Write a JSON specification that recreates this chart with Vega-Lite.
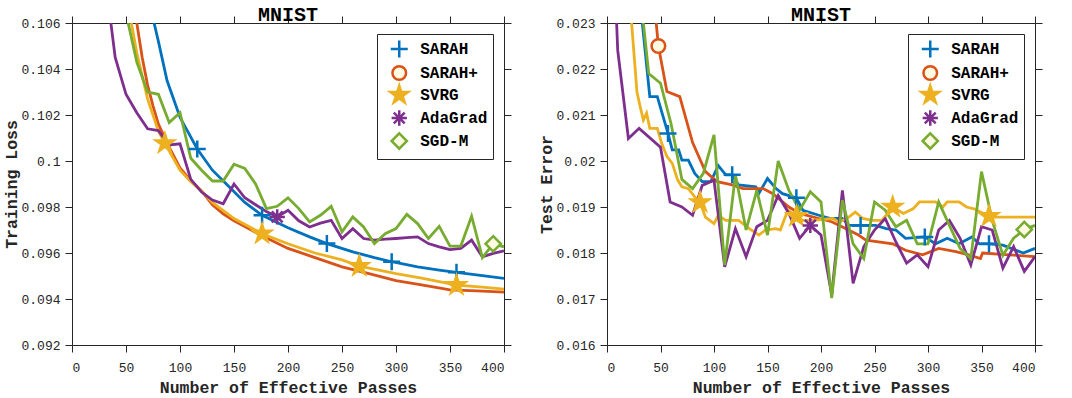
{
"$schema": "https://vega.github.io/schema/vega-lite/v6.json",
"autosize": {"type": "pad"},
"padding": {"left": 3, "top": 4, "right": 0, "bottom": 0},
"background": "white",
"config": {
  "view": {"stroke": null},
  "axis": {"domainColor": "#262626", "tickColor": "#262626", "tickSize": 7, "domainWidth": 1, "tickWidth": 1, "grid": false,
    "labelFont": "Liberation Mono", "labelFontSize": 13, "labelColor": "#262626",
    "titleFont": "Liberation Mono", "titleFontSize": 16.5, "titleFontWeight": "bold", "titleColor": "#262626"},
  "axisX": {"labelPadding": 9, "titlePadding": 5},
  "axisY": {"labelPadding": 5, "titlePadding": 1},
  "title": {"font": "Liberation Mono", "fontSize": 20, "fontWeight": "bold", "color": "black", "offset": -9},
  "legend": {"orient": "top-right", "offset": 11, "strokeColor": "#262626", "fillColor": "white", "padding": 5,
    "labelFont": "Liberation Mono", "labelFontSize": 16, "labelFontWeight": "bold", "labelColor": "black",
    "symbolSize": 289, "symbolOffset": 7.25, "labelOffset": 11, "rowPadding": -6, "symbolStrokeWidth": 2.5, "symbolOpacity": 1}
},
"datasets": {
  "loss_lines": [
    {"method":"SARAH","passes":76,"value":0.1060},{"method":"SARAH","passes":80,"value":0.1052},{"method":"SARAH","passes":88,"value":0.1035},{"method":"SARAH","passes":100,"value":0.1019},{"method":"SARAH","passes":116,"value":0.10052},{"method":"SARAH","passes":130,"value":0.0996},{"method":"SARAH","passes":145,"value":0.0989},{"method":"SARAH","passes":160,"value":0.0982},{"method":"SARAH","passes":176,"value":0.09764},{"method":"SARAH","passes":200,"value":0.0971},{"method":"SARAH","passes":220,"value":0.0967},{"method":"SARAH","passes":236,"value":0.09641},{"method":"SARAH","passes":260,"value":0.09605},{"method":"SARAH","passes":280,"value":0.0958},{"method":"SARAH","passes":296,"value":0.09562},{"method":"SARAH","passes":320,"value":0.0954},{"method":"SARAH","passes":340,"value":0.09526},{"method":"SARAH","passes":356,"value":0.09516},{"method":"SARAH","passes":380,"value":0.09502},{"method":"SARAH","passes":400,"value":0.0949},
    {"method":"SARAH+","passes":60,"value":0.1060},{"method":"SARAH+","passes":65,"value":0.1045},{"method":"SARAH+","passes":70,"value":0.1033},{"method":"SARAH+","passes":75,"value":0.1024},{"method":"SARAH+","passes":80,"value":0.1016},{"method":"SARAH+","passes":90,"value":0.1006},{"method":"SARAH+","passes":100,"value":0.0997},{"method":"SARAH+","passes":110,"value":0.09915},{"method":"SARAH+","passes":120,"value":0.0987},{"method":"SARAH+","passes":130,"value":0.0981},{"method":"SARAH+","passes":140,"value":0.0977},{"method":"SARAH+","passes":150,"value":0.0974},{"method":"SARAH+","passes":160,"value":0.09715},{"method":"SARAH+","passes":175,"value":0.09677},{"method":"SARAH+","passes":200,"value":0.0962},{"method":"SARAH+","passes":225,"value":0.0958},{"method":"SARAH+","passes":250,"value":0.0954},{"method":"SARAH+","passes":275,"value":0.0951},{"method":"SARAH+","passes":300,"value":0.0948},{"method":"SARAH+","passes":325,"value":0.0946},{"method":"SARAH+","passes":350,"value":0.0944},{"method":"SARAH+","passes":375,"value":0.09435},{"method":"SARAH+","passes":400,"value":0.0943},
    {"method":"SVRG","passes":55,"value":0.1060},{"method":"SVRG","passes":60,"value":0.1047},{"method":"SVRG","passes":70,"value":0.1027},{"method":"SVRG","passes":80,"value":0.1013},{"method":"SVRG","passes":86,"value":0.10077},{"method":"SVRG","passes":100,"value":0.0996},{"method":"SVRG","passes":110,"value":0.0991},{"method":"SVRG","passes":120,"value":0.0987},{"method":"SVRG","passes":130,"value":0.0982},{"method":"SVRG","passes":150,"value":0.0975},{"method":"SVRG","passes":176,"value":0.09684},{"method":"SVRG","passes":200,"value":0.0964},{"method":"SVRG","passes":225,"value":0.0960},{"method":"SVRG","passes":250,"value":0.0957},{"method":"SVRG","passes":266,"value":0.09543},{"method":"SVRG","passes":300,"value":0.0951},{"method":"SVRG","passes":325,"value":0.0949},{"method":"SVRG","passes":356,"value":0.0946},{"method":"SVRG","passes":380,"value":0.09452},{"method":"SVRG","passes":400,"value":0.09443},
    {"method":"AdaGrad","passes":36,"value":0.1060},{"method":"AdaGrad","passes":40,"value":0.1045},{"method":"AdaGrad","passes":50,"value":0.1029},{"method":"AdaGrad","passes":60,"value":0.1021},{"method":"AdaGrad","passes":70,"value":0.1014},{"method":"AdaGrad","passes":80,"value":0.10132},{"method":"AdaGrad","passes":90,"value":0.1007},{"method":"AdaGrad","passes":100,"value":0.10075},{"method":"AdaGrad","passes":110,"value":0.0992},{"method":"AdaGrad","passes":120,"value":0.09865},{"method":"AdaGrad","passes":130,"value":0.0983},{"method":"AdaGrad","passes":140,"value":0.09814},{"method":"AdaGrad","passes":150,"value":0.0990},{"method":"AdaGrad","passes":160,"value":0.0984},{"method":"AdaGrad","passes":170,"value":0.0981},{"method":"AdaGrad","passes":180,"value":0.0978},{"method":"AdaGrad","passes":190,"value":0.09757},{"method":"AdaGrad","passes":200,"value":0.09786},{"method":"AdaGrad","passes":210,"value":0.0974},{"method":"AdaGrad","passes":220,"value":0.09713},{"method":"AdaGrad","passes":230,"value":0.0973},{"method":"AdaGrad","passes":240,"value":0.09742},{"method":"AdaGrad","passes":250,"value":0.09663},{"method":"AdaGrad","passes":260,"value":0.09706},{"method":"AdaGrad","passes":270,"value":0.09663},{"method":"AdaGrad","passes":280,"value":0.09656},{"method":"AdaGrad","passes":290,"value":0.0966},{"method":"AdaGrad","passes":300,"value":0.09663},{"method":"AdaGrad","passes":310,"value":0.09667},{"method":"AdaGrad","passes":320,"value":0.0967},{"method":"AdaGrad","passes":330,"value":0.09641},{"method":"AdaGrad","passes":340,"value":0.09627},{"method":"AdaGrad","passes":350,"value":0.09615},{"method":"AdaGrad","passes":360,"value":0.0962},{"method":"AdaGrad","passes":370,"value":0.09656},{"method":"AdaGrad","passes":380,"value":0.09583},{"method":"AdaGrad","passes":390,"value":0.09598},{"method":"AdaGrad","passes":400,"value":0.09609},
    {"method":"SGD-M","passes":52,"value":0.1060},{"method":"SGD-M","passes":60,"value":0.1043},{"method":"SGD-M","passes":70,"value":0.1030},{"method":"SGD-M","passes":80,"value":0.1029},{"method":"SGD-M","passes":90,"value":0.10167},{"method":"SGD-M","passes":100,"value":0.1021},{"method":"SGD-M","passes":110,"value":0.10012},{"method":"SGD-M","passes":120,"value":0.0996},{"method":"SGD-M","passes":130,"value":0.09913},{"method":"SGD-M","passes":140,"value":0.09913},{"method":"SGD-M","passes":150,"value":0.09986},{"method":"SGD-M","passes":160,"value":0.09968},{"method":"SGD-M","passes":170,"value":0.0990},{"method":"SGD-M","passes":180,"value":0.09793},{"method":"SGD-M","passes":190,"value":0.09803},{"method":"SGD-M","passes":200,"value":0.0984},{"method":"SGD-M","passes":210,"value":0.09793},{"method":"SGD-M","passes":220,"value":0.09735},{"method":"SGD-M","passes":230,"value":0.09764},{"method":"SGD-M","passes":240,"value":0.09803},{"method":"SGD-M","passes":250,"value":0.09692},{"method":"SGD-M","passes":260,"value":0.09757},{"method":"SGD-M","passes":270,"value":0.09713},{"method":"SGD-M","passes":280,"value":0.09641},{"method":"SGD-M","passes":290,"value":0.09684},{"method":"SGD-M","passes":300,"value":0.09706},{"method":"SGD-M","passes":310,"value":0.09768},{"method":"SGD-M","passes":320,"value":0.09728},{"method":"SGD-M","passes":330,"value":0.09663},{"method":"SGD-M","passes":340,"value":0.09716},{"method":"SGD-M","passes":350,"value":0.0963},{"method":"SGD-M","passes":360,"value":0.0963},{"method":"SGD-M","passes":370,"value":0.0976},{"method":"SGD-M","passes":380,"value":0.0958},{"method":"SGD-M","passes":390,"value":0.0964},{"method":"SGD-M","passes":400,"value":0.09627}
  ],
  "loss_markers": [
    {"method":"SARAH","passes":116,"value":0.10052},{"method":"SARAH","passes":176,"value":0.09764},{"method":"SARAH","passes":236,"value":0.09641},{"method":"SARAH","passes":296,"value":0.09562},{"method":"SARAH","passes":356,"value":0.09516},
    {"method":"SVRG","passes":86,"value":0.10077},{"method":"SVRG","passes":176,"value":0.09684},{"method":"SVRG","passes":266,"value":0.09543},{"method":"SVRG","passes":356,"value":0.0946},
    {"method":"AdaGrad","passes":190,"value":0.09757},
    {"method":"SGD-M","passes":390,"value":0.0964}
  ],
  "err_lines": [
    {"method":"SARAH","passes":33,"value":0.0230},{"method":"SARAH","passes":40,"value":0.0214},{"method":"SARAH","passes":47,"value":0.0214},{"method":"SARAH","passes":57,"value":0.0206},{"method":"SARAH","passes":61,"value":0.02024},{"method":"SARAH","passes":67,"value":0.02024},{"method":"SARAH","passes":70,"value":0.02002},{"method":"SARAH","passes":76,"value":0.02002},{"method":"SARAH","passes":82,"value":0.01973},{"method":"SARAH","passes":89,"value":0.01955},{"method":"SARAH","passes":97,"value":0.01955},{"method":"SARAH","passes":104,"value":0.0199},{"method":"SARAH","passes":111,"value":0.0197},{"method":"SARAH","passes":117,"value":0.0197},{"method":"SARAH","passes":123,"value":0.01948},{"method":"SARAH","passes":139,"value":0.01944},{"method":"SARAH","passes":142,"value":0.0193},{"method":"SARAH","passes":150,"value":0.01962},{"method":"SARAH","passes":158,"value":0.0194},{"method":"SARAH","passes":164,"value":0.01929},{"method":"SARAH","passes":177,"value":0.0192},{"method":"SARAH","passes":183,"value":0.01893},{"method":"SARAH","passes":198,"value":0.01882},{"method":"SARAH","passes":209,"value":0.01875},{"method":"SARAH","passes":220,"value":0.01875},{"method":"SARAH","passes":226,"value":0.0186},{"method":"SARAH","passes":237,"value":0.0186},{"method":"SARAH","passes":251,"value":0.0186},{"method":"SARAH","passes":261,"value":0.01853},{"method":"SARAH","passes":270,"value":0.0185},{"method":"SARAH","passes":279,"value":0.01832},{"method":"SARAH","passes":297,"value":0.01835},{"method":"SARAH","passes":307,"value":0.0182},{"method":"SARAH","passes":318,"value":0.01832},{"method":"SARAH","passes":329,"value":0.0182},{"method":"SARAH","passes":341,"value":0.01835},{"method":"SARAH","passes":348,"value":0.0182},{"method":"SARAH","passes":357,"value":0.0182},{"method":"SARAH","passes":370,"value":0.01817},{"method":"SARAH","passes":389,"value":0.0180},{"method":"SARAH","passes":400,"value":0.0181},
    {"method":"SARAH+","passes":46,"value":0.0230},{"method":"SARAH+","passes":48,"value":0.0225},{"method":"SARAH+","passes":56,"value":0.02151},{"method":"SARAH+","passes":68,"value":0.0214},{"method":"SARAH+","passes":80,"value":0.0204},{"method":"SARAH+","passes":92,"value":0.01977},{"method":"SARAH+","passes":103,"value":0.01955},{"method":"SARAH+","passes":117,"value":0.01948},{"method":"SARAH+","passes":127,"value":0.0194},{"method":"SARAH+","passes":146,"value":0.0194},{"method":"SARAH+","passes":155,"value":0.01929},{"method":"SARAH+","passes":170,"value":0.0190},{"method":"SARAH+","passes":180,"value":0.01886},{"method":"SARAH+","passes":198,"value":0.01875},{"method":"SARAH+","passes":210,"value":0.01868},{"method":"SARAH+","passes":223,"value":0.01853},{"method":"SARAH+","passes":235,"value":0.01839},{"method":"SARAH+","passes":242,"value":0.01828},{"method":"SARAH+","passes":267,"value":0.0182},{"method":"SARAH+","passes":279,"value":0.01806},{"method":"SARAH+","passes":295,"value":0.01796},{"method":"SARAH+","passes":310,"value":0.0181},{"method":"SARAH+","passes":326,"value":0.01803},{"method":"SARAH+","passes":338,"value":0.01796},{"method":"SARAH+","passes":349,"value":0.01788},{"method":"SARAH+","passes":351,"value":0.0180},{"method":"SARAH+","passes":376,"value":0.01796},{"method":"SARAH+","passes":400,"value":0.01792},
    {"method":"SVRG","passes":23,"value":0.0230},{"method":"SVRG","passes":28,"value":0.0215},{"method":"SVRG","passes":31,"value":0.02118},{"method":"SVRG","passes":34,"value":0.02089},{"method":"SVRG","passes":37,"value":0.02104},{"method":"SVRG","passes":40,"value":0.02071},{"method":"SVRG","passes":47,"value":0.02071},{"method":"SVRG","passes":51,"value":0.02039},{"method":"SVRG","passes":56,"value":0.0201},{"method":"SVRG","passes":61,"value":0.01995},{"method":"SVRG","passes":66,"value":0.01959},{"method":"SVRG","passes":70,"value":0.01944},{"method":"SVRG","passes":76,"value":0.0194},{"method":"SVRG","passes":82,"value":0.01922},{"method":"SVRG","passes":87,"value":0.0191},{"method":"SVRG","passes":92,"value":0.01878},{"method":"SVRG","passes":100,"value":0.01864},{"method":"SVRG","passes":104,"value":0.01882},{"method":"SVRG","passes":111,"value":0.01871},{"method":"SVRG","passes":123,"value":0.01871},{"method":"SVRG","passes":133,"value":0.01853},{"method":"SVRG","passes":142,"value":0.01839},{"method":"SVRG","passes":148,"value":0.0185},{"method":"SVRG","passes":158,"value":0.01853},{"method":"SVRG","passes":162,"value":0.0185},{"method":"SVRG","passes":169,"value":0.01893},{"method":"SVRG","passes":177,"value":0.0188},{"method":"SVRG","passes":183,"value":0.01871},{"method":"SVRG","passes":192,"value":0.01871},{"method":"SVRG","passes":211,"value":0.01875},{"method":"SVRG","passes":217,"value":0.01867},{"method":"SVRG","passes":226,"value":0.01878},{"method":"SVRG","passes":232,"value":0.01889},{"method":"SVRG","passes":239,"value":0.01875},{"method":"SVRG","passes":248,"value":0.01871},{"method":"SVRG","passes":257,"value":0.01871},{"method":"SVRG","passes":267,"value":0.0190},{"method":"SVRG","passes":277,"value":0.01886},{"method":"SVRG","passes":286,"value":0.01896},{"method":"SVRG","passes":292,"value":0.01911},{"method":"SVRG","passes":307,"value":0.01911},{"method":"SVRG","passes":314,"value":0.0190},{"method":"SVRG","passes":318,"value":0.01911},{"method":"SVRG","passes":329,"value":0.01911},{"method":"SVRG","passes":336,"value":0.0190},{"method":"SVRG","passes":343,"value":0.01896},{"method":"SVRG","passes":357,"value":0.0188},{"method":"SVRG","passes":361,"value":0.01878},{"method":"SVRG","passes":400,"value":0.01878},
    {"method":"AdaGrad","passes":9,"value":0.0230},{"method":"AdaGrad","passes":10,"value":0.02241},{"method":"AdaGrad","passes":20,"value":0.02049},{"method":"AdaGrad","passes":30,"value":0.02071},{"method":"AdaGrad","passes":50,"value":0.0203},{"method":"AdaGrad","passes":59,"value":0.01911},{"method":"AdaGrad","passes":70,"value":0.0190},{"method":"AdaGrad","passes":80,"value":0.01882},{"method":"AdaGrad","passes":89,"value":0.01947},{"method":"AdaGrad","passes":100,"value":0.01958},{"method":"AdaGrad","passes":110,"value":0.0177},{"method":"AdaGrad","passes":120,"value":0.01853},{"method":"AdaGrad","passes":130,"value":0.01792},{"method":"AdaGrad","passes":140,"value":0.01857},{"method":"AdaGrad","passes":150,"value":0.01871},{"method":"AdaGrad","passes":160,"value":0.01925},{"method":"AdaGrad","passes":170,"value":0.01886},{"method":"AdaGrad","passes":180,"value":0.01832},{"method":"AdaGrad","passes":190,"value":0.0186},{"method":"AdaGrad","passes":200,"value":0.01839},{"method":"AdaGrad","passes":210,"value":0.01709},{"method":"AdaGrad","passes":220,"value":0.01936},{"method":"AdaGrad","passes":230,"value":0.01734},{"method":"AdaGrad","passes":240,"value":0.01814},{"method":"AdaGrad","passes":250,"value":0.0185},{"method":"AdaGrad","passes":260,"value":0.01875},{"method":"AdaGrad","passes":270,"value":0.01824},{"method":"AdaGrad","passes":280,"value":0.01778},{"method":"AdaGrad","passes":290,"value":0.01796},{"method":"AdaGrad","passes":300,"value":0.0177},{"method":"AdaGrad","passes":310,"value":0.0185},{"method":"AdaGrad","passes":320,"value":0.01871},{"method":"AdaGrad","passes":330,"value":0.01832},{"method":"AdaGrad","passes":340,"value":0.01774},{"method":"AdaGrad","passes":350,"value":0.01857},{"method":"AdaGrad","passes":360,"value":0.0185},{"method":"AdaGrad","passes":370,"value":0.01767},{"method":"AdaGrad","passes":380,"value":0.01814},{"method":"AdaGrad","passes":390,"value":0.0176},{"method":"AdaGrad","passes":400,"value":0.01792},
    {"method":"SGD-M","passes":34,"value":0.0230},{"method":"SGD-M","passes":39,"value":0.0219},{"method":"SGD-M","passes":50,"value":0.02169},{"method":"SGD-M","passes":60,"value":0.0208},{"method":"SGD-M","passes":70,"value":0.0196},{"method":"SGD-M","passes":80,"value":0.0194},{"method":"SGD-M","passes":90,"value":0.01973},{"method":"SGD-M","passes":100,"value":0.02057},{"method":"SGD-M","passes":110,"value":0.01774},{"method":"SGD-M","passes":120,"value":0.0197},{"method":"SGD-M","passes":130,"value":0.0185},{"method":"SGD-M","passes":140,"value":0.01936},{"method":"SGD-M","passes":150,"value":0.01839},{"method":"SGD-M","passes":160,"value":0.0200},{"method":"SGD-M","passes":170,"value":0.01936},{"method":"SGD-M","passes":180,"value":0.01893},{"method":"SGD-M","passes":190,"value":0.01933},{"method":"SGD-M","passes":200,"value":0.01911},{"method":"SGD-M","passes":210,"value":0.01702},{"method":"SGD-M","passes":220,"value":0.01915},{"method":"SGD-M","passes":230,"value":0.0182},{"method":"SGD-M","passes":240,"value":0.01788},{"method":"SGD-M","passes":250,"value":0.01911},{"method":"SGD-M","passes":260,"value":0.01893},{"method":"SGD-M","passes":270,"value":0.01857},{"method":"SGD-M","passes":280,"value":0.01871},{"method":"SGD-M","passes":290,"value":0.0182},{"method":"SGD-M","passes":300,"value":0.0182},{"method":"SGD-M","passes":310,"value":0.01911},{"method":"SGD-M","passes":320,"value":0.0186},{"method":"SGD-M","passes":330,"value":0.0181},{"method":"SGD-M","passes":340,"value":0.01788},{"method":"SGD-M","passes":350,"value":0.01977},{"method":"SGD-M","passes":360,"value":0.01871},{"method":"SGD-M","passes":370,"value":0.01795},{"method":"SGD-M","passes":380,"value":0.01832},{"method":"SGD-M","passes":390,"value":0.01851},{"method":"SGD-M","passes":400,"value":0.0186}
  ],
  "err_markers": [
    {"method":"SARAH","passes":57,"value":0.0206},{"method":"SARAH","passes":117,"value":0.0197},{"method":"SARAH","passes":177,"value":0.0192},{"method":"SARAH","passes":237,"value":0.0186},{"method":"SARAH","passes":297,"value":0.01835},{"method":"SARAH","passes":357,"value":0.0182},
    {"method":"SARAH+","passes":48,"value":0.0225},
    {"method":"SVRG","passes":87,"value":0.0191},{"method":"SVRG","passes":177,"value":0.0188},{"method":"SVRG","passes":267,"value":0.0190},{"method":"SVRG","passes":357,"value":0.0188},
    {"method":"AdaGrad","passes":190,"value":0.0186},
    {"method":"SGD-M","passes":390,"value":0.01851}
  ]
},
"bounds": "flush",
"spacing": 103,
"resolve": {"scale": {"x": "independent", "y": "independent", "stroke": "independent", "fill": "independent", "shape": "independent"}},
"hconcat": [
  {
    "width": 432, "height": 322,
    "title": {"text": "MNIST"},
    "layer": [
      {
        "data": {"name": "loss_lines"},
        "mark": {"type": "line", "strokeWidth": 2.8, "clip": true},
        "encoding": {
          "x": {"field": "passes", "type": "quantitative", "scale": {"domain": [0, 400], "nice": false, "zero": false}, "axis": {"values": [0,50,100,150,200,250,300,350,400], "title": "Number of Effective Passes"}},
          "y": {"field": "value", "type": "quantitative", "scale": {"domain": [0.092, 0.106], "nice": false, "zero": false}, "axis": {"values": [0.092,0.094,0.096,0.098,0.1,0.102,0.104,0.106], "format": ".3~f", "title": "Training Loss"}},
          "stroke": {"field": "method", "type": "nominal", "scale": {"domain": ["SARAH","SARAH+","SVRG","AdaGrad","SGD-M"], "range": ["#0072BD","#D95319","#EDB120","#7E2F8E","#77AC30"]}, "legend": {"title": null}}
        }
      },
      {
        "data": {"name": "loss_markers"},
        "mark": {"type": "point", "filled": true, "size": 289, "strokeWidth": 2.5, "opacity": 1, "clip": true},
        "encoding": {
          "x": {"field": "passes", "type": "quantitative", "scale": {"domain": [0, 400], "nice": false, "zero": false}, "axis": {"orient": "top", "labels": false, "title": null, "values": [0,50,100,150,200,250,300,350,400]}},
          "y": {"field": "value", "type": "quantitative", "scale": {"domain": [0.092, 0.106], "nice": false, "zero": false}, "axis": {"orient": "right", "labels": false, "title": null, "values": [0.092,0.094,0.096,0.098,0.1,0.102,0.104,0.106]}},
          "stroke": {"field": "method", "type": "nominal", "scale": {"domain": ["SARAH","SARAH+","SVRG","AdaGrad","SGD-M"], "range": ["#0072BD","#D95319","#EDB120","#7E2F8E","#77AC30"]}, "legend": {"title": null}},
          "fill": {"field": "method", "type": "nominal", "scale": {"domain": ["SARAH","SARAH+","SVRG","AdaGrad","SGD-M"], "range": ["transparent","#FFFBE3","#EDB120","transparent","#FFFBE3"]}, "legend": {"title": null}},
          "shape": {"field": "method", "type": "nominal", "scale": {"domain": ["SARAH","SARAH+","SVRG","AdaGrad","SGD-M"], "range": ["M-1,0L1,0M0,-1L0,1","M-0.8,0A0.8,0.8 0 1,1 0.8,0A0.8,0.8 0 1,1 -0.8,0Z","M0,-1.1L0.247,-0.34L1.046,-0.34L0.4,0.13L0.647,0.89L0,0.42L-0.647,0.89L-0.4,0.13L-1.046,-0.34L-0.247,-0.34Z","M-0.9,0L0.9,0M0,-0.9L0,0.9M-0.64,-0.64L0.64,0.64M-0.64,0.64L0.64,-0.64","M0,-0.9L0.9,0L0,0.9L-0.9,0Z"]}, "legend": {"title": null}}
        }
      }
    ],
    "resolve": {"axis": {"x": "independent", "y": "independent"}}
  },
  {
    "width": 428, "height": 322,
    "title": {"text": "MNIST"},
    "layer": [
      {
        "data": {"name": "err_lines"},
        "mark": {"type": "line", "strokeWidth": 2.8, "clip": true},
        "encoding": {
          "x": {"field": "passes", "type": "quantitative", "scale": {"domain": [0, 400], "nice": false, "zero": false}, "axis": {"values": [0,50,100,150,200,250,300,350,400], "title": "Number of Effective Passes"}},
          "y": {"field": "value", "type": "quantitative", "scale": {"domain": [0.016, 0.023], "nice": false, "zero": false}, "axis": {"values": [0.016,0.017,0.018,0.019,0.02,0.021,0.022,0.023], "format": ".3~f", "title": "Test Error"}},
          "stroke": {"field": "method", "type": "nominal", "scale": {"domain": ["SARAH","SARAH+","SVRG","AdaGrad","SGD-M"], "range": ["#0072BD","#D95319","#EDB120","#7E2F8E","#77AC30"]}, "legend": {"title": null}}
        }
      },
      {
        "data": {"name": "err_markers"},
        "mark": {"type": "point", "filled": true, "size": 289, "strokeWidth": 2.5, "opacity": 1, "clip": true},
        "encoding": {
          "x": {"field": "passes", "type": "quantitative", "scale": {"domain": [0, 400], "nice": false, "zero": false}, "axis": {"orient": "top", "labels": false, "title": null, "values": [0,50,100,150,200,250,300,350,400]}},
          "y": {"field": "value", "type": "quantitative", "scale": {"domain": [0.016, 0.023], "nice": false, "zero": false}, "axis": {"orient": "right", "labels": false, "title": null, "values": [0.016,0.017,0.018,0.019,0.02,0.021,0.022,0.023]}},
          "stroke": {"field": "method", "type": "nominal", "scale": {"domain": ["SARAH","SARAH+","SVRG","AdaGrad","SGD-M"], "range": ["#0072BD","#D95319","#EDB120","#7E2F8E","#77AC30"]}, "legend": {"title": null}},
          "fill": {"field": "method", "type": "nominal", "scale": {"domain": ["SARAH","SARAH+","SVRG","AdaGrad","SGD-M"], "range": ["transparent","#FFFBE3","#EDB120","transparent","#FFFBE3"]}, "legend": {"title": null}},
          "shape": {"field": "method", "type": "nominal", "scale": {"domain": ["SARAH","SARAH+","SVRG","AdaGrad","SGD-M"], "range": ["M-1,0L1,0M0,-1L0,1","M-0.8,0A0.8,0.8 0 1,1 0.8,0A0.8,0.8 0 1,1 -0.8,0Z","M0,-1.1L0.247,-0.34L1.046,-0.34L0.4,0.13L0.647,0.89L0,0.42L-0.647,0.89L-0.4,0.13L-1.046,-0.34L-0.247,-0.34Z","M-0.9,0L0.9,0M0,-0.9L0,0.9M-0.64,-0.64L0.64,0.64M-0.64,0.64L0.64,-0.64","M0,-0.9L0.9,0L0,0.9L-0.9,0Z"]}, "legend": {"title": null}}
        }
      }
    ],
    "resolve": {"axis": {"x": "independent", "y": "independent"}}
  }
]
}
